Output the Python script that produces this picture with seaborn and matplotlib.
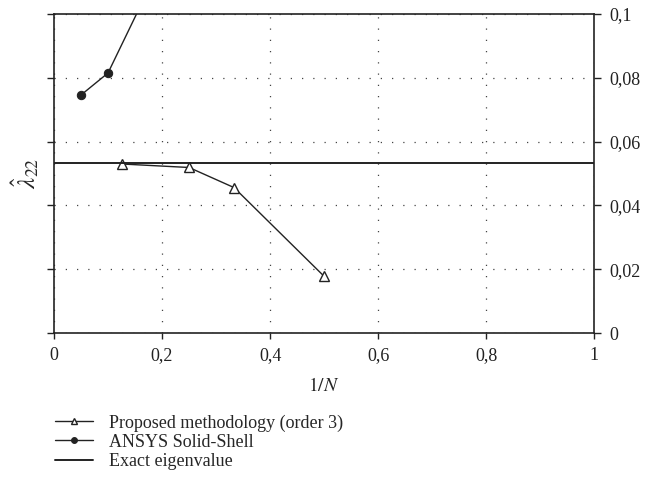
import matplotlib
matplotlib.use("Agg")
import matplotlib.pyplot as plt
from matplotlib.ticker import FuncFormatter
import seaborn as sns
import pandas as pd

# 1/N values and eigenvalue estimates
proposed_x = [0.125, 0.25, 1 / 3, 0.5]
proposed_y = [0.0530, 0.0519, 0.0456, 0.0178]
ansys_x = [0.05, 0.1, 0.2]
ansys_y = [0.0746, 0.0815, 0.1165]
exact_value = 0.0533

x_ticks = [0, 0.2, 0.4, 0.6, 0.8, 1]
y_ticks = [0, 0.02, 0.04, 0.06, 0.08, 0.1]

sns.set_style("ticks")
plt.rcParams["font.family"] = ["Liberation Serif", "DejaVu Serif"]
plt.rcParams["mathtext.fontset"] = "stix"

fig = plt.figure(figsize=(6.63, 4.98), dpi=100)
ax = fig.add_axes([0.0814, 0.331, 0.815, 0.641])

df_prop = pd.DataFrame({"x": proposed_x, "y": proposed_y})
df_ansys = pd.DataFrame({"x": ansys_x, "y": ansys_y})

sns.lineplot(data=df_prop, x="x", y="y", ax=ax, color="#222222", lw=1.0,
             marker="^", markersize=7, markerfacecolor="white",
             markeredgecolor="#222222", markeredgewidth=1.0,
             label="Proposed methodology (order 3)")
sns.lineplot(data=df_ansys, x="x", y="y", ax=ax, color="#222222", lw=1.0,
             marker="o", markersize=6, markerfacecolor="#222222",
             markeredgecolor="#222222", label="ANSYS Solid-Shell")
ax.axhline(exact_value, color="#222222", lw=1.4, label="Exact eigenvalue")

ax.set_xlim(0, 1)
ax.set_ylim(0, 0.1)
ax.set_xticks(x_ticks)
ax.set_yticks(y_ticks)

fmt = FuncFormatter(lambda v, p: f"{v:g}".replace(".", ","))
ax.xaxis.set_major_formatter(fmt)
ax.yaxis.set_major_formatter(fmt)

ax.grid(True, color="#444444", linestyle=(0, (1, 8)), linewidth=0.9)
for s in ax.spines.values():
    s.set_visible(True)
    s.set_color("#222222")
    s.set_linewidth(1.2)

ax.tick_params(axis="y", which="both", left=True, right=True,
               labelleft=False, labelright=True, direction="out",
               length=5, width=1, labelsize=13, colors="#222222", pad=6)
ax.tick_params(axis="x", direction="out", length=4, width=1,
               labelsize=13, colors="#222222", pad=6)

ax.set_xlabel(r"$1/N$", fontsize=14, labelpad=9)
ax.set_ylabel(r"$\hat{\lambda}_{22}$", fontsize=18, labelpad=4)

handles, labels = ax.get_legend_handles_labels()
ax.get_legend().remove()
fig.legend(handles, labels, loc="upper left", bbox_to_anchor=(0.083, 0.168),
           frameon=False, fontsize=13, handlelength=2.1, handletextpad=0.9,
           labelspacing=0.12, borderaxespad=0, borderpad=0, markerscale=0.7)

fig.savefig("out.png", dpi=100)
